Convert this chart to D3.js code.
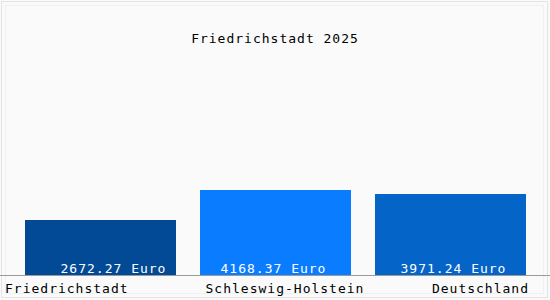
<!DOCTYPE html>
<html>
<head>
<meta charset="utf-8">
<script src="https://cdn.jsdelivr.net/npm/d3@7"></script>
<style>
    body { margin: 0; background: #fafafa; }
    svg text { font-family: "DejaVu Sans Mono", monospace; font-size: 13px; letter-spacing: 1px; }
</style>
</head>
<body>
<svg id="chart" width="550" height="300"></svg>
<script>
// data
var title = "Friedrichstadt 2025";
var categories = ["Friedrichstadt", "Schleswig-Holstein", "Deutschland"];
var values = [2672.27, 4168.37, 3971.24];
var unit = "Euro";
var barColors = ["#034a96", "#0a7cff", "#0564c8"];

var width = 550, height = 300;
var svg = d3.select("#chart");

// background + faint frame
svg.append("rect")
    .attr("x", 0).attr("y", 0)
    .attr("width", width).attr("height", height)
    .style("fill", "#fafafa");
svg.append("rect")
    .attr("x", 1.5).attr("y", 1.5)
    .attr("width", width - 4).attr("height", height - 4)
    .style("fill", "none").style("stroke", "#e4e4e4");
svg.append("rect")
    .attr("x", 5.5).attr("y", 5.5)
    .attr("width", width - 12).attr("height", height - 12)
    .style("fill", "none").style("stroke", "#f0f0f0");

var baseY = 275.5;

var x = d3.scaleBand()
    .domain(categories)
    .range([0, 551])
    .paddingInner(24 / 175)
    .paddingOuter(25 / 175);

var y = d3.scaleLinear()
    .domain([0, 13360])
    .range([baseY, 0]);

// bars
svg.append("g").selectAll("rect")
    .data(values)
    .enter().append("rect")
    .attr("x", (d, i) => Math.round(x(categories[i])))
    .attr("y", d => Math.round(y(d)))
    .attr("width", Math.round(x.bandwidth()))
    .attr("height", d => baseY - Math.round(y(d)))
    .style("fill", (d, i) => barColors[i]);

// value labels inside bars
var valueShift = [13, -2, 3];
svg.append("g").selectAll("text")
    .data(values)
    .enter().append("text")
    .attr("x", (d, i) => x(categories[i]) + x.bandwidth() / 2 + valueShift[i])
    .attr("y", 273)
    .attr("text-anchor", "middle")
    .style("fill", "#ffffff")
    .text(d => d.toFixed(2) + " " + unit);

// baseline
svg.append("line")
    .attr("x1", 0).attr("x2", width)
    .attr("y1", baseY).attr("y2", baseY)
    .style("stroke", "#9a9a9a");

// category labels
var anchors = ["start", "middle", "end"];
var labelX = [5, 285, 529];
svg.append("g").selectAll("text")
    .data(categories)
    .enter().append("text")
    .attr("x", (d, i) => labelX[i])
    .attr("y", 293)
    .attr("text-anchor", (d, i) => anchors[i])
    .style("fill", "#000")
    .text(d => d);

// title
svg.append("text")
    .attr("x", width / 2)
    .attr("y", 43)
    .attr("text-anchor", "middle")
    .style("fill", "#000")
    .text(title);
</script>
</body>
</html>
